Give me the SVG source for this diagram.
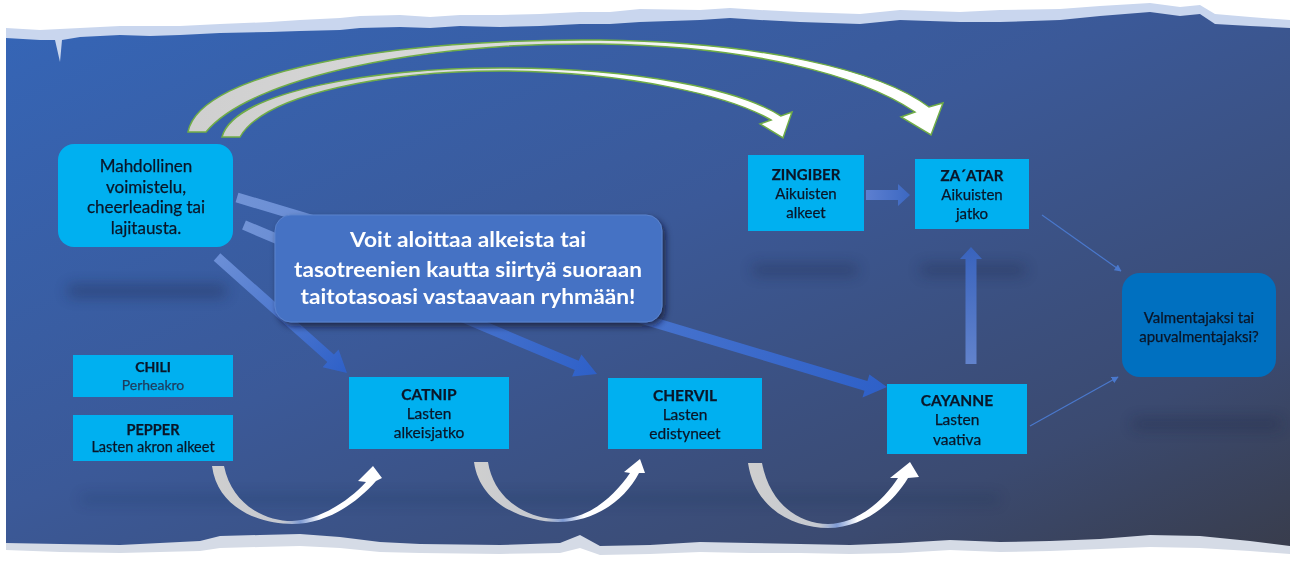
<svg xmlns="http://www.w3.org/2000/svg" width="1295" height="569" viewBox="0 0 1295 569">
<style>
.box{fill:#00b0f0}
.t{font-family:Lato,"Liberation Sans",sans-serif;fill:#0a1628;stroke:#0a1628;stroke-width:0.25;text-anchor:middle}
.b{font-weight:bold}
.ct{font-family:Lato,"Liberation Sans",sans-serif;fill:#ffffff;font-weight:bold;font-size:20px;text-anchor:middle}
.thin{stroke:#4a78cc;stroke-width:1.2;fill:none}
.arc{stroke:#70ad47;stroke-width:1.5}
</style>
<defs>
<linearGradient id="bg" x1="0" y1="0" x2="1" y2="1">
<stop offset="0" stop-color="#3566b8"/>
<stop offset="0.45" stop-color="#3b5998"/>
<stop offset="0.8" stop-color="#3b4a70"/>
<stop offset="1" stop-color="#383b48"/>
</linearGradient>
<linearGradient id="topArc" x1="0" y1="0" x2="1" y2="0">
<stop offset="0" stop-color="#cfcfcf"/>
<stop offset="0.45" stop-color="#dcdcdc"/>
<stop offset="0.7" stop-color="#ffffff"/>
<stop offset="1" stop-color="#ffffff"/>
</linearGradient>
<linearGradient id="uArc" x1="0" y1="0" x2="1" y2="0">
<stop offset="0" stop-color="#cfcfcf"/>
<stop offset="0.42" stop-color="#c4c8d0"/>
<stop offset="0.52" stop-color="#7f9bd4"/>
<stop offset="0.64" stop-color="#ffffff"/>
<stop offset="1" stop-color="#ffffff"/>
</linearGradient>
<linearGradient id="gA" gradientUnits="userSpaceOnUse" x1="237" y1="197" x2="887" y2="387">
<stop offset="0" stop-color="#7193d6"/>
<stop offset="1" stop-color="#2e60c8"/>
</linearGradient>
<linearGradient id="gB" gradientUnits="userSpaceOnUse" x1="244" y1="225" x2="597" y2="374">
<stop offset="0" stop-color="#7193d6"/>
<stop offset="1" stop-color="#2e60c8"/>
</linearGradient>
<linearGradient id="gC" gradientUnits="userSpaceOnUse" x1="217" y1="257" x2="347" y2="373">
<stop offset="0" stop-color="#6c8fd6"/>
<stop offset="1" stop-color="#2e60c8"/>
</linearGradient>
<linearGradient id="gH" x1="0" y1="0" x2="1" y2="0">
<stop offset="0" stop-color="#5d7fd0"/>
<stop offset="1" stop-color="#3c68c2"/>
</linearGradient>
<linearGradient id="gV" x1="0" y1="0" x2="0" y2="1">
<stop offset="0" stop-color="#3963bd"/>
<stop offset="1" stop-color="#6283cc"/>
</linearGradient>
<filter id="blur" x="-20%" y="-300%" width="140%" height="700%"><feGaussianBlur stdDeviation="7"/></filter>
<filter id="shadow" x="-10%" y="-10%" width="125%" height="140%"><feDropShadow dx="3" dy="4" stdDeviation="3" flood-color="#10182a" flood-opacity="0.7"/></filter>
<marker id="ah" viewBox="0 0 10 10" refX="9" refY="5" markerWidth="7" markerHeight="7" orient="auto" markerUnits="userSpaceOnUse"><path d="M0,0 L10,5 L0,10 Z" fill="#4a78cc"/></marker>
</defs>

<!-- background -->
<rect x="0" y="0" width="1295" height="569" fill="url(#bg)"/>
<g opacity="0.4" filter="url(#blur)" fill="#1c2846">
<rect x="67" y="285" width="160" height="12" rx="6"/>
<rect x="752" y="265" width="106" height="10" rx="5"/>
<rect x="920" y="265" width="106" height="10" rx="5"/>
<rect x="1132" y="419" width="150" height="10" rx="5"/>
<rect x="80" y="495" width="920" height="8" rx="4" opacity="0.5"/>
</g>
<!-- torn edges -->
<path d="M0,0 H1295 V30 L1290,28 L1250,26 L1215,24 L1200,14 L1180,16 L1150,12 L1100,16 L1060,20 L1000,22 L960,22 L900,20 L860,24 L800,22 L760,20 L730,18 L700,20 L640,22 L610,24 L580,24 L540,26 L500,27 L460,26 L430,28 L400,27 L360,28 L340,30 L300,31 L270,32 L220,33 L180,35 L150,36 L120,35 L80,37 L62,40 L60,62 L55,40 L40,40 L6,38 L0,38 Z" fill="#c9d6ee"/>
<path d="M0,0 H1295 V22 L1290,20 L1250,17 L1215,14 L1200,5 L1180,7 L1150,3 L1100,6 L1060,9 L1000,10 L960,12 L900,10 L860,14 L800,12 L760,10 L730,8 L700,10 L640,9 L610,12 L580,12 L540,14 L500,15 L460,15 L430,17 L400,15 L360,16 L340,18 L300,20 L270,22 L220,24 L180,26 L120,26 L80,28 L40,30 L6,28 L0,28 Z" fill="#ffffff"/>
<path d="M0,569 H1295 V544 L1290,546 L1250,541 L1200,536 L1150,535 L1100,539 L1050,541 L1000,542 L950,540 L900,543 L850,545 L800,544 L750,543 L700,542 L650,545 L600,546 L580,535 L560,543 L500,545 L420,544 L380,542 L340,537 L300,534 L260,535 L220,536 L200,541 L160,543 L120,545 L60,544 L6,543 L0,543 Z" fill="#d5dbe6"/>
<path d="M0,569 H1295 V552 L1290,554 L1250,551 L1200,548 L1150,547 L1100,549 L1050,551 L1000,552 L950,550 L900,553 L850,554 L800,553 L750,553 L700,552 L650,554 L600,555 L580,548 L560,553 L500,554 L420,553 L380,552 L340,548 L300,546 L260,547 L220,548 L200,551 L160,552 L120,553 L60,552 L6,550 L0,550 Z" fill="#ffffff"/>
<rect x="0" y="0" width="6" height="569" fill="#ffffff"/>
<rect x="1290" y="0" width="5" height="569" fill="#ffffff"/>

<!-- connectors -->
<g id="connectors">
<path class="arc" fill="url(#topArc)" d="M188,132 C200,70 400,38 600,40 C760,42 880,70 929,107 L943,103 L931,135 L901,117 L915,112 C860,75 750,46 600,44 C420,42 250,78 206,132 Z"/>
<path class="arc" fill="url(#topArc)" d="M222,137 C235,90 380,68 500,68 C640,68 740,90 781,116 L792,112 L783,138 L760,124 L771,120 C730,96 630,72 500,71 C390,71 265,93 240,137 Z"/>
<polygon fill="url(#gA)" points="238.4,192.7 867.4,381.1 869.4,374.4 887,387 862.5,397.4 864.5,390.7 235.6,202.3"/>
<polygon fill="url(#gB)" points="245.9,220.4 578.7,360.8 581.4,354.4 597,374 572.1,376.5 574.8,370.1 242.1,229.6"/>
<polygon fill="url(#gC)" points="220.3,253.3 333.9,354.6 338.6,349.4 347,373 322.6,367.3 327.3,362.1 213.7,260.7"/>
<polygon fill="url(#gH)" points="866,190 898,190 898,184 910,195 898,206 898,200 866,200"/>
<polygon fill="url(#gV)" points="965.5,364 965.5,259 960,259 971,247 982,259 976.5,259 976.5,364"/>
<line class="thin" x1="1042" y1="215" x2="1121" y2="271" marker-end="url(#ah)"/>
<line class="thin" x1="1030" y1="426" x2="1118" y2="377" marker-end="url(#ah)"/>
<path fill="url(#uArc)" d="M212,466 C218,510 262,524 292,524 C325,524 355,505 376,481 L382,478 L373,466 L358,481 L366,482 C350,500 320,520 292,521 C265,521 232,505 224,466 Z"/>
<path fill="url(#uArc)" d="M474,462 C480,505 525,522 558,522 C595,522 625,500 639,473 L645,473 L640,459 L624,472 L630,473 C615,495 590,519 558,519 C528,519 494,500 488,462 Z"/>
<path fill="url(#uArc)" d="M748,463 C755,510 795,528 828,528 C862,528 892,505 908,478 L919,477 L910,462 L890,478 L898,478 C882,503 855,524 828,524 C800,524 770,505 762,463 Z"/>
</g>

<g id="mahdollinen">
<rect x="58" y="144" width="175" height="103" rx="16" class="box"/>
<text class="t" font-size="17"><tspan x="146" y="172">Mahdollinen</tspan><tspan x="146" y="193">voimistelu,</tspan><tspan x="146" y="213">cheerleading tai</tspan><tspan x="146" y="234">lajitausta.</tspan></text>
</g>

<g id="callout">
<rect x="275" y="215" width="387" height="107" rx="16" fill="#4472c4" stroke="#5a82cc" stroke-width="1" filter="url(#shadow)"/>
<text class="ct"><tspan x="468" y="247" textLength="236" lengthAdjust="spacingAndGlyphs">Voit aloittaa alkeista tai</tspan><tspan x="468" y="277" textLength="348" lengthAdjust="spacingAndGlyphs">tasotreenien kautta siirtyä suoraan</tspan><tspan x="468" y="304" textLength="335" lengthAdjust="spacingAndGlyphs">taitotasoasi vastaavaan ryhmään!</tspan></text>
</g>

<g id="zingiber">
<rect x="748" y="155" width="116" height="76" class="box"/>
<text class="t" font-size="15"><tspan x="806" y="180" class="b">ZINGIBER</tspan><tspan x="806" y="199">Aikuisten</tspan><tspan x="806" y="218">alkeet</tspan></text>
</g>

<g id="zaatar">
<rect x="915" y="159" width="114" height="70" class="box"/>
<text class="t" font-size="15"><tspan x="972" y="181" class="b">ZA´ATAR</tspan><tspan x="972" y="200">Aikuisten</tspan><tspan x="972" y="219">jatko</tspan></text>
</g>

<g id="valmentajaksi">
<rect x="1122" y="273" width="154" height="104" rx="18" fill="#0070c0"/>
<text class="t" font-size="15"><tspan x="1199" y="323">Valmentajaksi tai</tspan><tspan x="1199" y="342">apuvalmentajaksi?</tspan></text>
</g>

<g id="chili">
<rect x="73" y="355" width="160" height="42" class="box"/>
<text class="t" font-size="14"><tspan x="153" y="372" class="b">CHILI</tspan><tspan x="153" y="390" fill="#1f3b5c" stroke="#1f3b5c">Perheakro</tspan></text>
</g>

<g id="pepper">
<rect x="73" y="415" width="160" height="46" class="box"/>
<text class="t" font-size="14.5"><tspan x="153" y="435" class="b">PEPPER</tspan><tspan x="153" y="452">Lasten akron alkeet</tspan></text>
</g>

<g id="catnip">
<rect x="349" y="377" width="160" height="72" class="box"/>
<text class="t" font-size="15.5"><tspan x="429" y="400" class="b">CATNIP</tspan><tspan x="429" y="419">Lasten</tspan><tspan x="429" y="438">alkeisjatko</tspan></text>
</g>

<g id="chervil">
<rect x="608" y="378" width="154" height="71" class="box"/>
<text class="t" font-size="15.5"><tspan x="685" y="401" class="b">CHERVIL</tspan><tspan x="685" y="420">Lasten</tspan><tspan x="685" y="439">edistyneet</tspan></text>
</g>

<g id="cayanne">
<rect x="887" y="384" width="140" height="70" class="box"/>
<text class="t" font-size="15.5"><tspan x="957" y="406" class="b">CAYANNE</tspan><tspan x="957" y="425">Lasten</tspan><tspan x="957" y="445">vaativa</tspan></text>
</g>
</svg>
